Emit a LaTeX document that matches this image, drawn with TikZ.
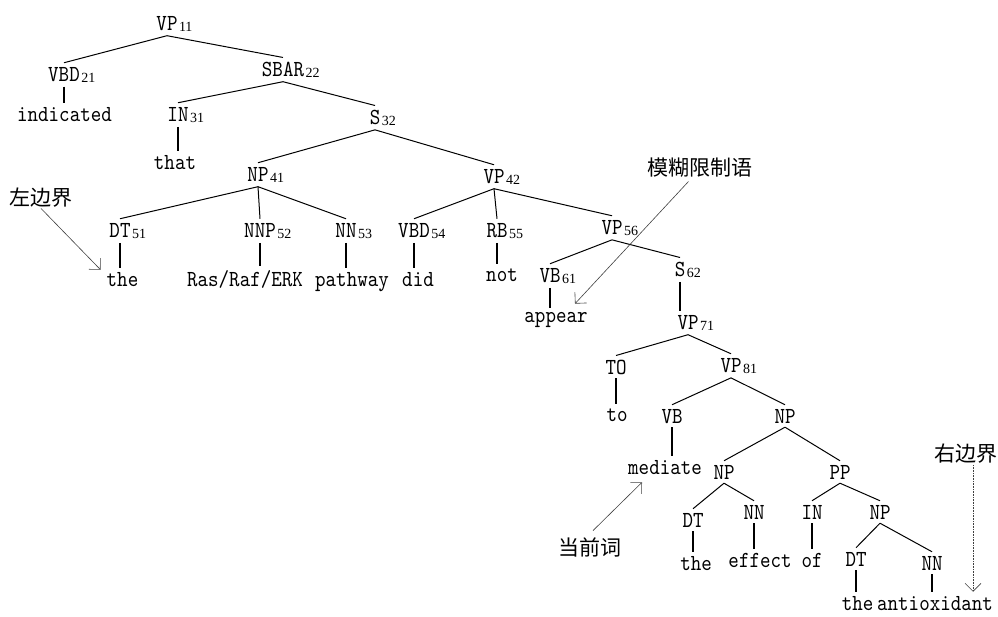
\documentclass[tikz,border=0pt]{standalone}
\usepackage{fontspec}
\usetikzlibrary{arrows.meta,calc}
\newfontfamily\treefont{lmmono10-regular}[Extension=.otf,FakeStretch=0.87]
\newfontfamily\subfont{Liberation Serif}
\newfontfamily\cjkfont{Noto Sans CJK SC}
% index subscript that does not widen the label
\newcommand{\sbsc}[1]{\rlap{\hspace{1.5pt}\raisebox{-1.5pt}{\subfont\fontsize{14}{14}\selectfont #1}}}
\tikzset{
  lbl/.style={font=\treefont\fontsize{23}{23}\selectfont, inner xsep=1pt, inner ysep=4pt, anchor=base},
  word/.style={lbl},
  note/.style={font=\cjkfont\fontsize{21}{21}\selectfont, inner sep=1pt},
  edge/.style={line width=1pt},
  lex/.style={line width=2pt},
  pointer/.style={draw=black!75, line width=0.6pt, -{Straight Barb[length=8pt,width=16pt]}}
}
\begin{document}
\begin{tikzpicture}[x=1pt,y=-1pt]
\useasboundingbox (0,0) rectangle (998,616);

% phrase and part-of-speech labels
\node[lbl] (VP11)  at (167,30)  {VP\sbsc{11}};
\node[lbl] (VBD21) at (64,81)   {VBD\sbsc{21}};
\node[lbl] (SBAR22) at (283,76) {SBAR\sbsc{22}};
\node[lbl] (IN31)  at (178,121) {IN\sbsc{31}};
\node[lbl] (S32)   at (375,124) {S\sbsc{32}};
\node[lbl] (NP41)  at (258,181) {NP\sbsc{41}};
\node[lbl] (VP42)  at (494,183) {VP\sbsc{42}};
\node[lbl] (DT51)  at (120,237) {DT\sbsc{51}};
\node[lbl] (NNP52) at (260,237) {NNP\sbsc{52}};
\node[lbl] (NN53)  at (346,237) {NN\sbsc{53}};
\node[lbl] (VBD54) at (414,237) {VBD\sbsc{54}};
\node[lbl] (RB55)  at (497,237) {RB\sbsc{55}};
\node[lbl] (VP56)  at (612,234) {VP\sbsc{56}};
\node[lbl] (VB61)  at (550,282) {VB\sbsc{61}};
\node[lbl] (S62)   at (680,276) {S\sbsc{62}};
\node[lbl] (VP71)  at (688,329) {VP\sbsc{71}};
\node[lbl] (TO)    at (616,374) {TO};
\node[lbl] (VP81)  at (731,372) {VP\sbsc{81}};
\node[lbl] (VB)    at (672,423) {VB};
\node[lbl] (NPa)   at (785,423) {NP};
\node[lbl] (NPb)   at (724,479) {NP};
\node[lbl] (PP)    at (840,479) {PP};
\node[lbl] (DTb)   at (693,527) {DT};
\node[lbl] (NNb)   at (754,519) {NN};
\node[lbl] (INc)   at (812,519) {IN};
\node[lbl] (NPc)   at (880,519) {NP};
\node[lbl] (DTc)   at (856,566) {DT};
\node[lbl] (NNc)   at (932,570) {NN};

% words
\node[word] (indicated) at (64.5,121) {indicated};
\node[word] (that)      at (175,169)  {that};
\node[word] (theA)      at (122.5,286) {the};
\node[word] (ras)       at (245,286)  {Ras/Raf/ERK};
\node[word] (pathway)   at (352,286)  {pathway};
\node[word] (did)       at (418,286)  {did};
\node[word] (not)       at (502,281)  {not};
\node[word] (appear)    at (556,322)  {appear};
\node[word] (to)        at (617,421)  {to};
\node[word] (mediate)   at (665,474)  {mediate};
\node[word] (theB)      at (696,570)  {the};
\node[word] (effect)    at (760,567)  {effect};
\node[word] (of)        at (812,567)  {of};
\node[word] (theC)      at (857.5,610) {the};
\node[word] (antioxidant) at (935,610) {antioxidant};

% branches
\draw[edge] (VP11.south) -- (VBD21.north);
\draw[edge] (VP11.south) -- (SBAR22.north);
\draw[edge] (SBAR22.south) -- (IN31.north);
\draw[edge] (SBAR22.south) -- (S32.north);
\draw[edge] (S32.south) -- (NP41.north);
\draw[edge] (S32.south) -- (VP42.north);
\draw[edge] (NP41.south) -- (DT51.north);
\draw[edge] (NP41.south) -- (NNP52.north);
\draw[edge] (NP41.south) -- (NN53.north);
\draw[edge] (VP42.south) -- (VBD54.north);
\draw[edge] (VP42.south) -- (RB55.north);
\draw[edge] (VP42.south) -- (VP56.north);
\draw[edge] (VP56.south) -- (VB61.north);
\draw[edge] (VP56.south) -- (S62.north);
\draw[edge] (VP71.south) -- (TO.north);
\draw[edge] (VP71.south) -- (VP81.north);
\draw[edge] (VP81.south) -- (VB.north);
\draw[edge] (VP81.south) -- (NPa.north);
\draw[edge] (NPa.south) -- (NPb.north);
\draw[edge] (NPa.south) -- (PP.north);
\draw[edge] (NPb.south) -- (DTb.north);
\draw[edge] (NPb.south) -- (NNb.north);
\draw[edge] (PP.south) -- (INc.north);
\draw[edge] (PP.south) -- (NPc.north);
\draw[edge] (NPc.south) -- (DTc.north);
\draw[edge] (NPc.south) -- (NNc.north);

% unary links
\draw[lex] (VBD21.south) -- (VBD21.south |- indicated.north);
\draw[lex] (IN31.south) -- (IN31.south |- that.north);
\draw[lex] (DT51.south) -- (DT51.south |- theA.north);
\draw[lex] (NNP52.south) -- (NNP52.south |- ras.north);
\draw[lex] (NN53.south) -- (NN53.south |- pathway.north);
\draw[lex] (VBD54.south) -- (VBD54.south |- did.north);
\draw[lex] (RB55.south) -- (RB55.south |- not.north);
\draw[lex] (VB61.south) -- (VB61.south |- appear.north);
\draw[lex] (S62.south) -- (S62.south |- VP71.north);
\draw[lex] (TO.south) -- (TO.south |- to.north);
\draw[lex] (VB.south) -- (VB.south |- mediate.north);
\draw[lex] (DTb.south) -- (DTb.south |- theB.north);
\draw[lex] (NNb.south) -- (NNb.south |- effect.north);
\draw[lex] (INc.south) -- (INc.south |- of.north);
\draw[lex] (DTc.south) -- (DTc.south |- theC.north);
\draw[lex] (NNc.south) -- (NNc.south |- antioxidant.north);

% annotations
\node[note] (zuo)      at (41,197.5)   {左边界};
\node[note] (mohu)     at (699.5,167.5) {模糊限制语};
\node[note] (dangqian) at (590,547.5)  {当前词};
\node[note] (you)      at (966,454)    {右边界};

\draw[pointer] (zuo.south) -- ($(theA.north west)+(-5,2)$);
\draw[pointer] ($(mohu.south)+(-11,3)$) -- ($(appear.north)+(19,-4)$);
\draw[pointer] ($(dangqian.north)+(3,-6)$) -- ($(mediate.south)+(-23,4)$);
\coordinate (youtop) at ($(you.south)+(7,0)$);
\draw[pointer, densely dotted] (youtop) -- (youtop |- antioxidant.north);
\end{tikzpicture}
\end{document}
